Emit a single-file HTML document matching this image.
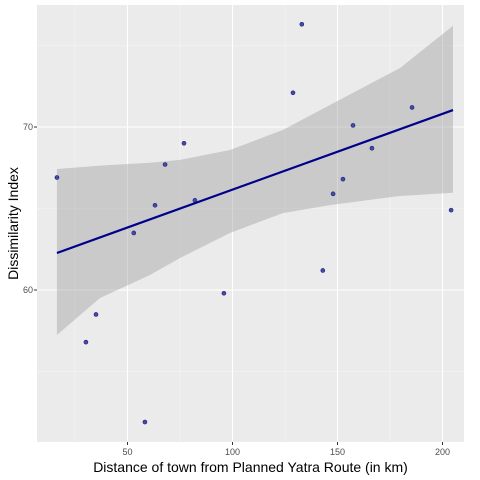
<!DOCTYPE html>
<html><head><meta charset="utf-8"><style>
body{margin:0;background:#fff;}
svg{display:block;font-family:"Liberation Sans",Arial,sans-serif;}
</style></head><body>
<svg id="chart" width="480" height="480"></svg>
<script>
const xValues=[16.4,30.2,35,53,58.3,63.1,67.9,76.9,82.1,95.9,128.8,133,143,147.9,152.6,157.4,166.4,185.5,204.1];
const yValues=[66.9,56.8,58.5,63.5,51.9,65.2,67.7,69.0,65.5,59.8,72.1,76.3,61.2,65.9,66.8,70.1,68.7,71.2,64.9];
const fitX=[16.4,205];
const fitY=[62.27,71.04];
const ciX=[16.4,36.9,60.7,75,98.8,124,146.4,179.8,205];
const ciHigh=[67.42,67.63,67.81,67.98,68.59,69.82,71.35,73.62,76.21];
const ciLow=[57.24,59.51,60.92,61.96,63.50,64.72,65.21,65.77,65.97];
const xTicks=[50,100,150,200];
const yTicks=[60,70];
const yMinorTicks=[55,65,75];
const xMinorTicks=[25,75,125,175];

const NS="http://www.w3.org/2000/svg";
const svg=document.getElementById('chart');
const PL=37,PR=464,PT=5,PB=442;
const X=v=>22.5+2.1*v;
const Y=v=>290-(v-60)*16.3;
function el(t,a,p){const e=document.createElementNS(NS,t);for(const k in a)e.setAttribute(k,a[k]);(p||svg).appendChild(e);return e;}

const panel=el('rect',{x:PL,y:PT,width:PR-PL,height:PB-PT,fill:'#ebebeb'});


xMinorTicks.forEach(t=>{const l=el('line',{x1:X(t),x2:X(t),y1:PT,y2:PB,stroke:'#f5f5f5','stroke-width':0.6});

});
yMinorTicks.forEach(t=>{const l=el('line',{x1:PL,x2:PR,y1:Y(t),y2:Y(t),stroke:'#f5f5f5','stroke-width':0.6});

});
xTicks.forEach(t=>{const l=el('line',{x1:X(t),x2:X(t),y1:PT,y2:PB,stroke:'#fff','stroke-width':1.1});


const tk=el('line',{x1:X(t),x2:X(t),y1:PB,y2:PB+3,stroke:'#333','stroke-width':1});


const tx=el('text',{x:X(t),y:455,'text-anchor':'middle','font-size':9,fill:'#4d4d4d'});tx.textContent=t;

});
yTicks.forEach(t=>{const l=el('line',{x1:PL,x2:PR,y1:Y(t),y2:Y(t),stroke:'#fff','stroke-width':1.1});


const tk=el('line',{x1:PL-3,x2:PL,y1:Y(t),y2:Y(t),stroke:'#333','stroke-width':1});


const tx=el('text',{x:PL-4,y:Y(t)+3,'text-anchor':'end','font-size':9,fill:'#4d4d4d'});tx.textContent=t;

});

const up=ciX.map((x,i)=>X(x)+','+Y(ciHigh[i]));
const lo=ciX.map((x,i)=>X(x)+','+Y(ciLow[i])).reverse();
const rib=el('polygon',{points:up.concat(lo).join(' '),fill:'#999',opacity:0.4});



xValues.forEach((x,i)=>{const c=el('circle',{cx:X(x),cy:Y(yValues[i]),r:2,fill:'#4b4b9b',stroke:'#1a1a8c','stroke-width':0.6});

});

const fl=el('polyline',{points:fitX.map((x,i)=>X(x)+','+Y(fitY[i])).join(' '),fill:'none',stroke:'#00008b','stroke-width':2.2});



const xt=el('text',{x:(PL+PR)/2,y:472,'text-anchor':'middle','font-size':14,fill:'#000'});
xt.textContent='Distance of town from Planned Yatra Route (in km)';


const yt=el('text',{x:0,y:0,'text-anchor':'middle','font-size':14,fill:'#000',transform:'translate(18,'+((PT+PB)/2)+') rotate(-90)'});
yt.textContent='Dissimilarity Index';


</script>
</body></html>
